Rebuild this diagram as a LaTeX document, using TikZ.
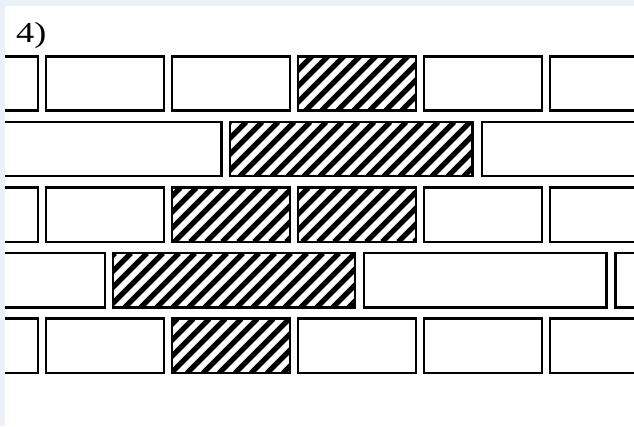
\documentclass[tikz,border=0pt]{standalone}
\usepackage{fontspec}
\setmainfont{Liberation Serif}
\definecolor{bgpale}{RGB}{236,241,247}
\tikzset{
  brick/.style={draw=black, line width=2.5pt, fill=white},
  brickline/.style={draw=black, line width=2.5pt},
  stripe/.style={line width=5.3pt, black},
  label4/.style={font=\fontsize{29}{32}\selectfont, inner sep=0pt, anchor=base west}
}
\newcommand{\plainbrick}[4]{\draw[brick] (#1,#2) rectangle (#3,#4);}
\newcommand{\hatchbrick}[4]{%
  \begin{scope}
    \clip (#1,#2) rectangle (#3,#4);
    \foreach \s in {0,16,...,1104} {\draw[stripe] (\s-#4,#4) -- (\s-#2,#2);}
  \end{scope}
  \draw[brickline] (#1,#2) rectangle (#3,#4);}
\begin{document}
\begin{tikzpicture}[x=1pt,y=-1pt]
\useasboundingbox (0,0) rectangle (634,426);
\fill[bgpale] (0,0) rectangle (634,426);
\fill[white] (5,6) rectangle (634,426);
\node[label4] (lbl) at (16,42) {\scalebox{1.25}[1]{4)}};
\begin{scope}
\clip (5,6) rectangle (634,426);
% row 1
\plainbrick{-80}{56.3}{38}{110.6}
\plainbrick{46}{56.3}{164}{110.6}
\plainbrick{172}{56.3}{290}{110.6}
\hatchbrick{298}{56.3}{416}{110.6}
\plainbrick{424}{56.3}{542}{110.6}
\plainbrick{550}{56.3}{668}{110.6}
% row 2
\plainbrick{-22}{121.9}{221.5}{176.2}
\hatchbrick{230}{121.9}{472.5}{176.2}
\plainbrick{482}{121.9}{724}{176.2}
% row 3
\plainbrick{-80}{187.5}{38}{241.8}
\plainbrick{46}{187.5}{164}{241.8}
\hatchbrick{172}{187.5}{290}{241.8}
\hatchbrick{298}{187.5}{416}{241.8}
\plainbrick{424}{187.5}{542}{241.8}
\plainbrick{550}{187.5}{668}{241.8}
% row 4
\plainbrick{-137}{253.1}{105}{307.4}
\hatchbrick{113}{253.1}{355}{307.4}
\plainbrick{364}{253.1}{606.5}{307.4}
\plainbrick{615.5}{253.1}{858}{307.4}
% row 5
\plainbrick{-80}{318.7}{38}{373}
\plainbrick{46}{318.7}{164}{373}
\hatchbrick{172}{318.7}{290}{373}
\plainbrick{298}{318.7}{416}{373}
\plainbrick{424}{318.7}{542}{373}
\plainbrick{550}{318.7}{668}{373}
\end{scope}
\end{tikzpicture}
\end{document}
